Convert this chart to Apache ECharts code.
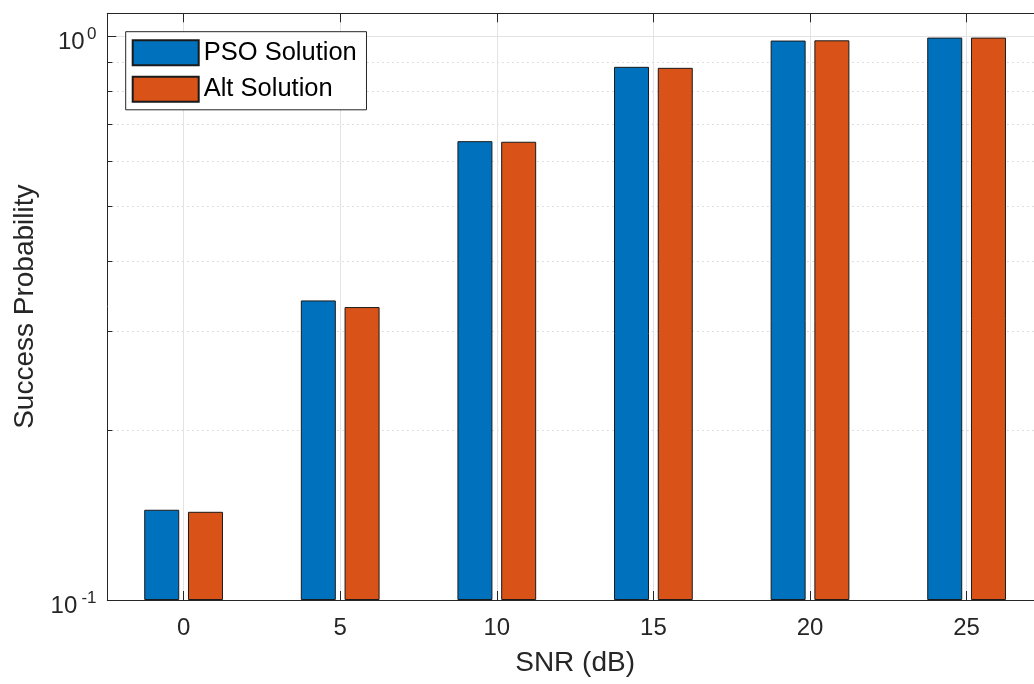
<!DOCTYPE html>
<html>
<head>
<meta charset="utf-8">
<script src="https://cdn.jsdelivr.net/npm/echarts@6/dist/echarts.min.js"></script>
<style>
  html, body { margin: 0; padding: 0; background: #fff; }
  #chart { width: 1034px; height: 684px; }
</style>
</head>
<body>
<div id="chart"></div>
<script>
// SNR levels (dB) and measured success probabilities
const snr = [0, 5, 10, 15, 20, 25];
const psoSuccess = [0.1446, 0.3402, 0.6523, 0.8838, 0.984, 0.996];
const altSuccess = [0.1434, 0.3311, 0.6507, 0.8802, 0.985, 0.996];
const seriesNames = ['PSO Solution', 'Alt Solution'];

// Axis ticks
const xTicks = [0, 5, 10, 15, 20, 25];
const yMajorTicks = [0.1, 1];
const yMinorTicks = [0.2, 0.3, 0.4, 0.5, 0.6, 0.7, 0.8, 0.9];

const FONT = "'Liberation Sans', Arial, Helvetica, sans-serif";
const AXIS_COLOR = '#262626';
const X_MIN = -2.436, X_MAX = 27.436;
const Y_MIN = 0.1, Y_MAX = 1.1;

const chart = echarts.init(document.getElementById('chart'), null, { renderer: 'canvas' });

const pairs = (xs, ys) => xs.map((x, i) => [x, ys[i]]);
const exponentOf = (v) => Math.round(Math.log10(v));

const barStyle = (color) => ({
  color: color,
  borderColor: '#1a1a1a',
  borderWidth: 1
});

// shared settings for the overlaid log axes on the left
const logAxisBase = {
  type: 'log',
  logBase: 10,
  min: Y_MIN,
  max: Y_MAX,
  position: 'left'
};

const option = {
  backgroundColor: '#ffffff',
  animation: false,
  textStyle: { fontFamily: FONT },
  grid: {
    left: 107.3, top: 13.3, width: 935.6, height: 586.7,
    containLabel: false,
    outerBoundsMode: 'none'
  },
  legend: {
    orient: 'vertical',
    left: 125.7,
    top: 31.7,
    padding: [7.6, 9.7, 7, 6],
    itemGap: 9.5,
    itemWidth: 66,
    itemHeight: 25,
    backgroundColor: '#ffffff',
    borderColor: AXIS_COLOR,
    borderWidth: 1,
    icon: 'rect',
    textStyle: { fontSize: 25.5, color: '#000000', fontFamily: FONT },
    data: seriesNames
  },
  xAxis: [
    {
      type: 'value',
      min: X_MIN,
      max: X_MAX,
      name: 'SNR (dB)',
      nameLocation: 'middle',
      nameGap: 49,
      nameTextStyle: { fontSize: 28, color: AXIS_COLOR, fontFamily: FONT },
      axisLine: { show: true, onZero: false, lineStyle: { color: AXIS_COLOR, width: 1 } },
      axisTick: { show: true, inside: true, length: 9, customValues: xTicks, lineStyle: { color: AXIS_COLOR } },
      axisLabel: { show: true, customValues: xTicks, fontSize: 24, color: AXIS_COLOR, margin: 16, fontFamily: FONT },
      splitLine: { show: true, lineStyle: { color: '#e3e3e3', width: 1 } }
    },
    {
      type: 'value',
      position: 'top',
      min: X_MIN,
      max: X_MAX,
      axisLine: { show: true, onZero: false, lineStyle: { color: AXIS_COLOR, width: 1 } },
      axisTick: { show: true, inside: true, length: 9, customValues: xTicks, lineStyle: { color: AXIS_COLOR } },
      axisLabel: { show: false },
      splitLine: { show: false }
    }
  ],
  yAxis: [
    // main axis: line, major ticks, solid grid, base "10" of the tick labels
    Object.assign({}, logAxisBase, {
      startValue: Y_MIN,
      name: 'Success Probability',
      nameLocation: 'middle',
      nameGap: 63,
      nameTextStyle: { fontSize: 28, color: AXIS_COLOR, fontFamily: FONT },
      axisLine: { show: true, onZero: false, lineStyle: { color: AXIS_COLOR, width: 1 } },
      axisTick: { show: true, inside: true, length: 9, customValues: yMajorTicks, lineStyle: { color: AXIS_COLOR } },
      axisLabel: {
        show: true,
        customValues: yMajorTicks,
        margin: 22.6,
        verticalAlign: 'top',
        formatter: (v) => (exponentOf(v) < 0 ? '{n|10}' : '{p|10}'),
        rich: {
          p: { fontSize: 24, lineHeight: 12, color: AXIS_COLOR, fontFamily: FONT },
          n: { fontSize: 24, lineHeight: 12, color: AXIS_COLOR, fontFamily: FONT, padding: [0, 7.4, 0, 0] }
        }
      },
      splitLine: { show: true, lineStyle: { color: '#e3e3e3', width: 1 } }
    }),
    // minor decade ticks with dotted grid
    Object.assign({}, logAxisBase, {
      axisLine: { show: false, onZero: false },
      axisTick: { show: true, inside: true, length: 5, customValues: yMinorTicks, lineStyle: { color: AXIS_COLOR } },
      axisLabel: { show: false },
      splitLine: { show: true, lineStyle: { color: '#c8c8c8', width: 1, type: [1.2, 3.8] } }
    }),
    // exponents of the tick labels
    Object.assign({}, logAxisBase, {
      axisLine: { show: false, onZero: false },
      axisTick: { show: false },
      axisLabel: {
        show: true,
        customValues: yMajorTicks,
        margin: 10.8,
        verticalAlign: 'bottom',
        lineHeight: 4,
        fontSize: 17,
        color: AXIS_COLOR,
        fontFamily: FONT,
        formatter: (v) => String(exponentOf(v))
      },
      splitLine: { show: false }
    })
  ],
  series: [
    {
      name: seriesNames[0],
      type: 'bar',
      xAxisIndex: 0,
      yAxisIndex: 0,
      barWidth: 35,
      barGap: '25%',
      itemStyle: barStyle('#0072BD'),
      data: pairs(snr, psoSuccess),
      z: 3
    },
    {
      name: seriesNames[1],
      type: 'bar',
      xAxisIndex: 0,
      yAxisIndex: 0,
      barWidth: 35,
      barGap: '25%',
      itemStyle: barStyle('#D95319'),
      data: pairs(snr, altSuccess),
      z: 3
    }
  ]
};

chart.setOption(option);
</script>
</body>
</html>
